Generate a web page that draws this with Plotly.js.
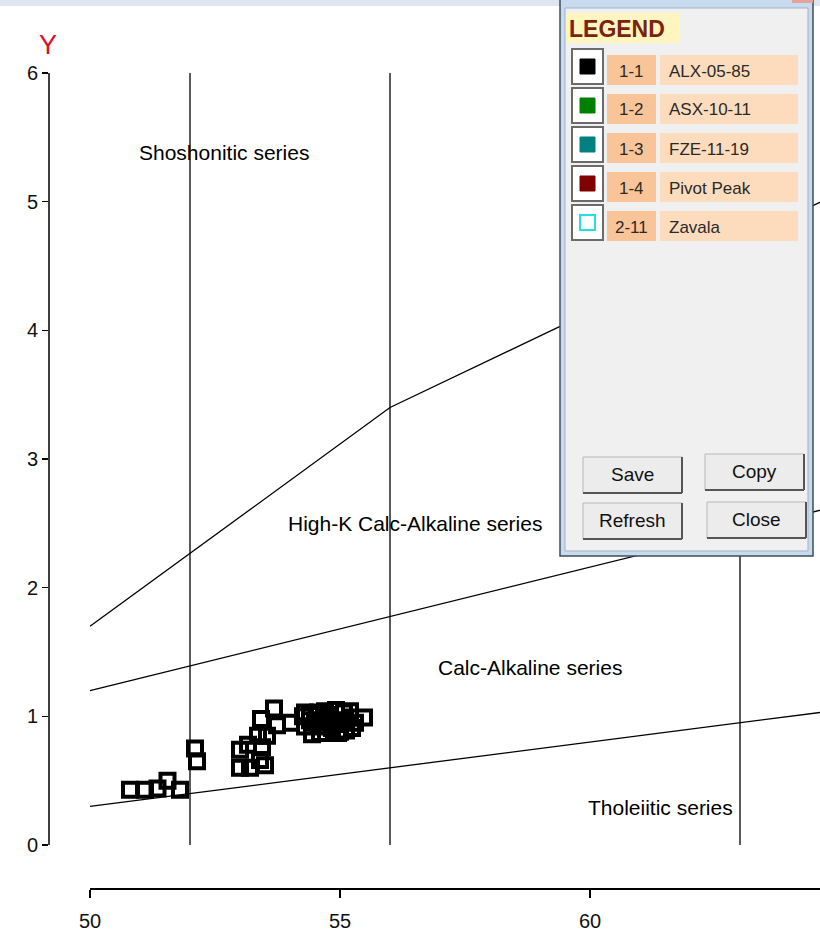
<!DOCTYPE html>
<html>
<head>
<meta charset="utf-8">
<script src="https://cdn.plot.ly/plotly-3.0.1.min.js"></script>
<style>html,body{margin:0;padding:0;background:#fff;}#chart{width:820px;height:937px;}</style>
</head>
<body>
<div id="chart"></div>
<script>
// ---- data ----
const sampleSiO2 = [50.8, 51.1, 51.35, 51.55, 51.8, 52.1, 52.14,
  53.0, 53.0, 53.16, 53.2, 53.36, 53.4, 53.5, 53.44, 53.54, 53.42, 53.68, 53.74, 54.02, 54.26, 54.4, 54.44,
  54.3, 54.3, 54.56, 54.64, 54.76, 54.84, 54.92, 55.0, 55.08, 55.12, 55.2, 55.24, 54.96, 54.72, 55.48,
  54.5, 54.7, 54.9, 55.1, 54.8, 55.0, 54.6, 55.2, 54.4, 55.3];
const sampleK2O = [0.43, 0.43, 0.44, 0.50, 0.43, 0.75, 0.65,
  0.74, 0.60, 0.78, 0.60, 0.85, 0.66, 0.62, 0.76, 0.85, 0.98, 1.06, 0.93, 0.95, 1.00, 0.97, 0.86,
  1.03, 0.92, 1.03, 0.92, 1.01, 0.91, 1.05, 0.96, 1.03, 0.89, 0.99, 0.91, 0.87, 0.97, 0.99,
  0.95, 1.04, 0.94, 0.97, 0.98, 0.88, 0.87, 1.04, 1.01, 0.95];

const shoshX = [50, 56, 65], shoshY = [1.7, 3.4, 5.07];
const highKX = [50, 65], highKY = [1.2, 2.64];
const calcX = [50, 65], calcY = [0.3, 1.05];
const dividerX = [52, 56, 63];
const dividerY = [0, 6];

const seriesLabels = ["Shoshonitic series", "High-K Calc-Alkaline series", "Calc-Alkaline series", "Tholeiitic series"];
const seriesLabelX = [52.68, 56.5, 58.8, 61.4];
const seriesLabelY = [5.38, 2.5, 1.38, 0.29];

const xTicks = [50, 55, 60];
const yTicks = [0, 1, 2, 3, 4, 5, 6];

const legendCodes = ["1-1", "1-2", "1-3", "1-4", "2-11"];
const legendNames = ["ALX-05-85", "ASX-10-11", "FZE-11-19", "Pivot Peak", "Zavala"];
const legendColors = ["#000000", "#008000", "#008080", "#800000", "#22e0e0"];
const legendOpen = [false, false, false, false, true];
const buttonLabels = ["Save", "Copy", "Refresh", "Close"];

// ---- geometry helpers (pixel -> paper) ----
const W = 820, H = 937, ML = 49, MR = 0, MT = 73, MB = 48;
const PW = W - ML - MR, PH = H - MT - MB;
const px = p => (p - ML) / PW;
const py = p => (H - MB - p) / PH;

const SANS = "'Liberation Sans', Arial, sans-serif";

const traces = [];
const lineStyle = {color: '#000', width: 1.3};
traces.push({x: shoshX, y: shoshY, mode: 'lines', line: lineStyle, hoverinfo: 'skip'});
traces.push({x: highKX, y: highKY, mode: 'lines', line: lineStyle, hoverinfo: 'skip'});
traces.push({x: calcX, y: calcY, mode: 'lines', line: lineStyle, hoverinfo: 'skip'});
dividerX.forEach(v => traces.push({x: [v, v], y: dividerY, mode: 'lines', line: lineStyle, hoverinfo: 'skip'}));
traces.push({x: sampleSiO2, y: sampleK2O, mode: 'markers', name: 'ALX-05-85',
  marker: {symbol: 'square-open', size: 14, color: '#000', line: {width: 4, color: '#000'}}});

const shapes = [];
const annotations = [];
function rect(x0, y0, x1, y1, fill, line, lw) {
  shapes.push({type: 'rect', xref: 'paper', yref: 'paper', layer: 'above',
    x0: px(x0), x1: px(x1), y0: py(y1), y1: py(y0), fillcolor: fill,
    line: {color: line || fill, width: lw === undefined ? 1 : lw}});
}
function seg(x0, y0, x1, y1, color, lw) {
  shapes.push({type: 'line', xref: 'paper', yref: 'paper', layer: 'above',
    x0: px(x0), x1: px(x1), y0: py(y0), y1: py(y1), line: {color: color, width: lw}});
}
function text(t, x, y, font, xanchor) {
  annotations.push({text: t, xref: 'paper', yref: 'paper', x: px(x), y: py(y), showarrow: false,
    xanchor: xanchor || 'center', yanchor: 'middle', font: font});
}

// axes lines
shapes.push({type: 'line', xref: 'paper', yref: 'y', x0: 0, x1: 0, y0: 0, y1: 6, line: {color: '#000', width: 1.5}});
shapes.push({type: 'line', xref: 'x', yref: 'paper', x0: 50, x1: 64.6, y0: 0, y1: 0, line: {color: '#000', width: 2}});

// top window strip
rect(0, 0, 820, 6, '#dde6f1', '#dde6f1', 0);

// legend window
rect(560, -3, 813, 556, '#c8daee', '#3d4d5e', 1.5);
rect(565, 8, 808, 551, '#f0f0f0', '#9fb3c8', 1);
rect(792, -3, 813, 3, '#e6a39a', '#e6a39a', 0);
rect(566, 13, 680, 43, '#fff6bf', '#fff6bf', 0);
text('<b>LEGEND</b>', 567, 29, {family: SANS, size: 23, color: '#7a2410'}, 'left');

legendCodes.forEach((c, i) => {
  const cy = 70 + 39 * i;
  rect(572, cy - 21, 603, cy + 14, '#ffffff', '#6b6b6b', 2);
  if (legendOpen[i]) {
    rect(580, cy - 11, 595, cy + 4, '#ffffff', legendColors[i], 2);
  } else {
    rect(580, cy - 11, 595, cy + 4, legendColors[i], legendColors[i], 1);
  }
  rect(607, cy - 15, 656, cy + 15, '#f9c598', '#f9c598', 0);
  rect(660, cy - 15, 798, cy + 15, '#fcdcbc', '#fcdcbc', 0);
  text(c, 631, cy + 1, {family: SANS, size: 17, color: '#2a2a2a'});
  text(legendNames[i], 667, cy + 1, {family: SANS, size: 17, color: '#2a2a2a'}, 'left');
});

// buttons
const btn = [[583, 457, 682, 493], [705, 454, 804, 490], [583, 503, 682, 539], [707, 502, 806, 538]];
btn.forEach((b, i) => {
  rect(b[0], b[1], b[2], b[3], '#ececec', '#b8b8b8', 1);
  seg(b[0], b[3], b[2], b[3], '#555', 2);
  seg(b[2], b[1], b[2], b[3], '#555', 2);
  text(buttonLabels[i], (b[0] + b[2]) / 2, (b[1] + b[3]) / 2 - 1, {family: SANS, size: 19, color: '#111'});
});

// series labels (data coords)
seriesLabels.forEach((t, i) => {
  annotations.unshift({text: t, xref: 'x', yref: 'y', x: seriesLabelX[i], y: seriesLabelY[i], showarrow: false,
    xanchor: 'center', yanchor: 'middle', font: {family: SANS, size: 21, color: '#000'}});
});

// Y label
annotations.push({text: 'Y', xref: 'paper', yref: 'paper', x: px(48), y: py(45), showarrow: false,
  xanchor: 'center', yanchor: 'middle', font: {family: SANS, size: 27, color: '#e0102a'}});

const layout = {
  width: W, height: H,
  margin: {l: ML, r: MR, t: MT, b: MB, pad: 0},
  paper_bgcolor: '#fff', plot_bgcolor: '#fff',
  showlegend: false,
  xaxis: {range: [49.18, 64.6], tickvals: xTicks, ticktext: xTicks.map(String), ticks: 'outside', ticklen: 8,
    tickwidth: 1.5, tickcolor: '#000', showgrid: false, zeroline: false, showline: false,
    ticklabelstandoff: 6,
    tickfont: {family: SANS, size: 20, color: '#111'}},
  yaxis: {range: [-0.342, 6], tickvals: yTicks, ticktext: yTicks.map(String), ticks: 'outside', ticklen: 6,
    tickwidth: 1.5, tickcolor: '#000', showgrid: false, zeroline: false, showline: false,
    tickfont: {family: SANS, size: 20, color: '#111'}},
  shapes: shapes,
  annotations: annotations
};

Plotly.newPlot('chart', traces, layout, {displayModeBar: false, staticPlot: true});
</script>
</body>
</html>
